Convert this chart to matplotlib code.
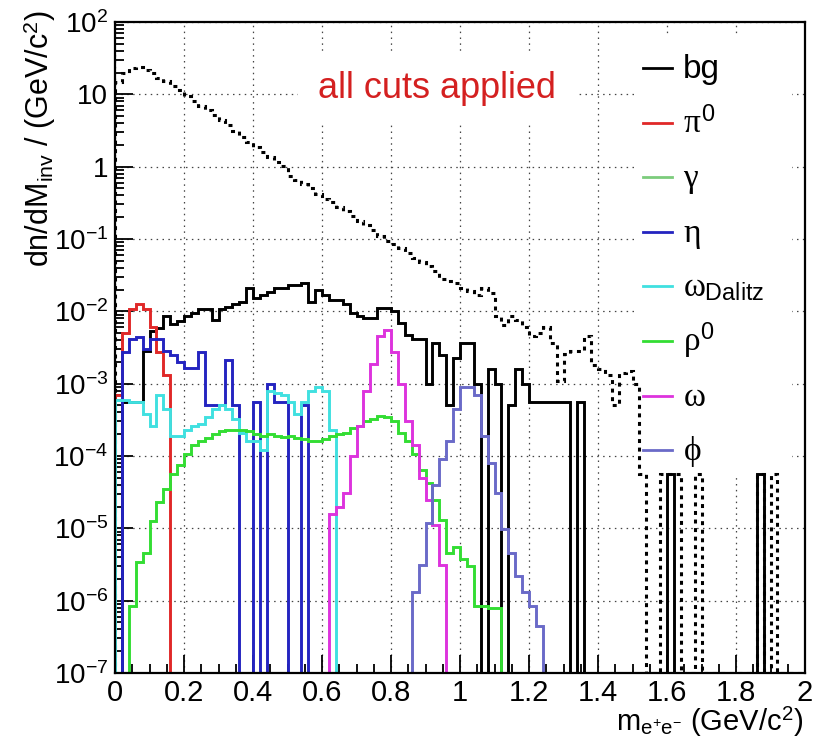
import numpy as np
import matplotlib
matplotlib.use("Agg")
import matplotlib.pyplot as plt
from matplotlib.ticker import FuncFormatter, LogLocator, MultipleLocator
from matplotlib.lines import Line2D
from matplotlib.patches import Rectangle

plt.rcParams['font.family'] = ['Liberation Sans', 'DejaVu Sans']
plt.rcParams['mathtext.fontset'] = 'custom'
plt.rcParams['mathtext.rm'] = 'Liberation Sans'
plt.rcParams['mathtext.sf'] = 'Liberation Sans'
plt.rcParams['mathtext.it'] = 'Liberation Serif'
plt.rcParams['mathtext.bf'] = 'Liberation Sans:bold'

# 100 bins of 0.02 GeV/c^2 between 0 and 2
edges = np.linspace(0.0, 2.0, 101)
FLOOR = 1e-7   # empty bins are drawn on the axis minimum, like ROOT

# dotted histogram (no cuts), one value per bin
dotted = [15, 20, 23, 24, 22, 19.5, 17, 15.5, 13, 11.5,
          9.5, 8, 7, 6, 5.2, 4.4, 3.8, 3.1, 2.6, 2.2,
          1.9, 1.6, 1.35, 1.17, 1.02, 0.75, 0.65, 0.58, 0.50, 0.42,
          0.36, 0.32, 0.28, 0.24, 0.21, 0.18, 0.155, 0.135, 0.11, 0.095,
          0.085, 0.075, 0.065, 0.055, 0.048, 0.042, 0.036, 0.028, 0.026, 0.025,
          0.021, 0.019, 0.017, 0.021, 0.018, 0.0085, 0.0065, 0.0085, 0.0077, 0.0060,
          0.0045, 0.005, 0.006, 0.0036, 0.0011, 0.0026, 0.0028, 0.0028, 0.0045, 0.0018,
          0.0016, 0.0013, 0.0005, 0.0014, 0.0015, 0.0010, 5.6e-5, 0, 0, 5.6e-5,
          5.6e-5, 5.6e-5, 0, 0, 5.6e-5, 0, 0, 0, 0, 0,
          0, 0, 0, 5.6e-5, 0, 5.6e-5, 0, 0, 0, 0]

# bg after cuts
bg = ([0, 5.5e-4, 5.5e-4, 5.5e-4, 2.8e-3, 5.3e-3, 5.8e-3, 8.5e-3, 6.6e-3, 7.3e-3,
       8.5e-3, 9.5e-3, 1.07e-2, 1.07e-2, 7.7e-3, 1.07e-2, 1.15e-2, 1.25e-2, 1.34e-2, 2.08e-2,
       1.55e-2, 1.68e-2, 1.87e-2, 2.1e-2, 2.1e-2, 2.32e-2, 2.32e-2, 2.45e-2, 1.34e-2, 2.0e-2,
       1.68e-2, 1.43e-2, 1.43e-2, 1.28e-2, 9.5e-3, 8.7e-3, 8.0e-3, 8.0e-3, 1.12e-2, 1.12e-2,
       1.0e-2, 7.0e-3, 4.7e-3, 4.2e-3, 4.2e-3, 1.0e-3, 3.6e-3, 2.5e-3, 5.0e-4, 2.3e-3,
       3.6e-3, 3.6e-3, 1.0e-3, 0, 1.6e-3, 1.0e-3, 0, 5.0e-4, 1.6e-3, 1.0e-3,
       5.5e-4, 5.5e-4, 5.5e-4, 5.5e-4, 5.5e-4, 5.5e-4, 0, 5.5e-4]
      + [0] * 12 + [5.6e-5] + [0] * 12 + [5.6e-5] + [0] * 6)

# signal sources: first filled bin and values from there on
pi0_start = 0
pi0 = [7e-4, 5e-3, 1.07e-2, 1.28e-2, 1.07e-2, 6e-3, 2.7e-3, 1.3e-3]

gamma_start = 0
gamma = []

eta_start = 1
eta = [2.7e-3, 4.2e-3, 4.4e-3, 3.0e-3, 4.2e-3, 4.2e-3, 2.8e-3, 2.5e-3, 2.0e-3, 1.65e-3,
       1.65e-3, 2.7e-3, 5e-4, 5e-4, 5e-4, 2.1e-3, 5e-4, 0, 0, 5.5e-4,
       0, 1e-3, 5.5e-4, 5.5e-4, 0, 0, 5e-4]

omega_dalitz_start = 0
omega_dalitz = [6e-4, 6e-4, 5.5e-4, 5.5e-4, 3.8e-4, 2.6e-4, 7e-4, 4.5e-4, 1.9e-4, 1.9e-4,
                2.3e-4, 2.6e-4, 2.8e-4, 3.5e-4, 4.4e-4, 5.1e-4, 4.5e-4, 3.2e-4, 2.1e-4, 1.6e-4,
                1.6e-4, 1.2e-4, 8e-4, 7.5e-4, 7e-4, 5.5e-4, 3.8e-4, 5.5e-4, 8e-4, 9e-4,
                8e-4, 2.3e-4]

rho_start = 2
rho = [8.5e-7, 3.4e-6, 4.6e-6, 1.25e-5, 2.3e-5, 3.5e-5, 5.6e-5, 7.5e-5,
       1.05e-4, 1.4e-4, 1.6e-4, 1.8e-4, 2.0e-4, 2.2e-4, 2.3e-4, 2.3e-4, 2.3e-4, 2.2e-4,
       2.0e-4, 1.9e-4, 2.0e-4, 1.9e-4, 1.85e-4, 1.9e-4, 1.8e-4, 1.7e-4, 1.6e-4, 1.6e-4,
       1.7e-4, 1.9e-4, 2.0e-4, 2.1e-4, 2.4e-4, 2.6e-4, 3.0e-4, 3.2e-4, 3.6e-4, 3.5e-4,
       3.0e-4, 2.1e-4, 1.6e-4, 1.05e-4, 6.5e-5, 4.3e-5, 2.5e-5, 1.3e-5, 4.5e-6, 5.5e-6,
       3.8e-6, 3e-6, 8.5e-7, 8.5e-7, 8e-7, 8e-7]

omega_start = 31
omega = [1.6e-5, 2e-5, 3.1e-5, 1e-4, 2.6e-4, 8e-4, 1.9e-3, 4.5e-3, 5.5e-3, 2.7e-3,
         1e-3, 3e-4, 1.4e-4, 5e-5, 2.5e-5, 1.1e-5, 3.1e-6]

phi_start = 43
phi = [1.3e-6, 3.1e-6, 1.2e-5, 4e-5, 9e-5, 1.6e-4, 4.4e-4, 9e-4, 9e-4, 6.9e-4,
       1.9e-4, 8e-5, 3.1e-5, 9.7e-6, 4.6e-6, 2.2e-6, 1.3e-6, 8.5e-7, 4.5e-7]

labels = ['bg', r'$\pi^{0}$', r'$\gamma$', r'$\eta$', r'$\omega_{\mathrm{Dalitz}}$',
          r'$\rho^{0}$', r'$\omega$', r'$\phi$']
colors = ['black', '#e02828', '#7ccc7c', '#2424c0', '#40e0e0',
          '#33dd33', '#dd33dd', '#6a6ac8']


def spread(start, vals):
    h = np.zeros(len(edges) - 1)
    h[start:start + len(vals)] = vals
    return h


def floor(h):
    h = np.asarray(h, dtype=float)
    return np.where(h > 0, h, FLOOR)


W, H = 813, 742
fig = plt.figure(figsize=(W / 100, H / 100), dpi=100)
ax = fig.add_axes([115 / W, 1 - 673 / H, 690 / W, 651 / H])
ax.set_yscale('log')
ax.set_xlim(0, 2)
ax.set_ylim(1e-7, 1e2)
ax.set_axisbelow(True)

ax.stairs(floor(dotted), edges, color='black', lw=2.2,
          linestyle=(0, (1.3, 1.5)), zorder=2)

series = [bg,
          spread(pi0_start, pi0),
          spread(gamma_start, gamma),
          spread(eta_start, eta),
          spread(omega_dalitz_start, omega_dalitz),
          spread(rho_start, rho),
          spread(omega_start, omega),
          spread(phi_start, phi)]
for h, c in zip(series, colors):
    ax.stairs(floor(h), edges, color=c, lw=2.1, zorder=2)

# grid, ticks, frame
ax.grid(True, which='major', color='#444444', linestyle=(0, (1.2, 3.5)), lw=0.9)
ax.xaxis.set_major_locator(MultipleLocator(0.2))
ax.xaxis.set_minor_locator(MultipleLocator(0.05))
ax.yaxis.set_major_locator(LogLocator(base=10, numticks=20))
ax.yaxis.set_minor_locator(LogLocator(base=10, subs=np.arange(2, 10), numticks=20))
ax.xaxis.set_major_formatter(FuncFormatter(lambda v, p: '%g' % v))


def ylab(v, pos):
    e = int(round(np.log10(v)))
    if e == 0:
        return '1'
    if e == 1:
        return '10'
    return r'$\mathregular{10^{%d}}$' % e


ax.yaxis.set_major_formatter(FuncFormatter(ylab))
ax.yaxis.set_minor_formatter(FuncFormatter(lambda v, p: ''))
ax.xaxis.get_offset_text().set_visible(False)
ax.yaxis.get_offset_text().set_visible(False)
ax.tick_params(which='both', direction='in', top=False, right=False, width=1.3)
ax.tick_params(which='major', length=13)
ax.tick_params(which='minor', length=6.5)
ax.tick_params(axis='x', labelsize=21, pad=4)
ax.tick_params(axis='y', labelsize=20, pad=5)
for s in ax.spines.values():
    s.set_linewidth(1.6)
    s.set_zorder(3)

# axis titles
fig.text(40 / W, 1 - 10 / H, r'dn/dM$_{\mathregular{inv}}$ / (GeV/c$^{\mathregular{2}}$)',
         rotation=90, ha='center', va='top', fontsize=22)
fig.text(803 / W, 1 - 739 / H, r'm$_{\mathregular{e^{+}e^{-}}}$ (GeV/c$^{\mathregular{2}}$)',
         ha='right', va='bottom', fontsize=21)

ax.text((318 - 115) / 690, (673 - 88) / 651, 'all cuts applied', color='#d42020',
        fontsize=26, ha='left', va='center', transform=ax.transAxes,
        bbox=dict(boxstyle='square,pad=0.55', facecolor='white', edgecolor='none'))

# legend drawn by hand on a white pad
ax.add_patch(Rectangle((638 / W, 1 - 478 / H), 154 / W, 441 / H, transform=fig.transFigure,
                       facecolor='white', edgecolor='none', zorder=1))
for k, (lab, c) in enumerate(zip(labels, colors)):
    yk = 68 + k * 54.6
    ax.add_line(Line2D([643 / W, 672 / W], [1 - yk / H, 1 - yk / H], color=c, lw=2.0,
                       transform=fig.transFigure, clip_on=False, zorder=4))
    fig.text(683 / W, 1 - (yk + 10) / H, lab, ha='left', va='baseline', fontsize=24)

fig.savefig('out.png', dpi=100)
